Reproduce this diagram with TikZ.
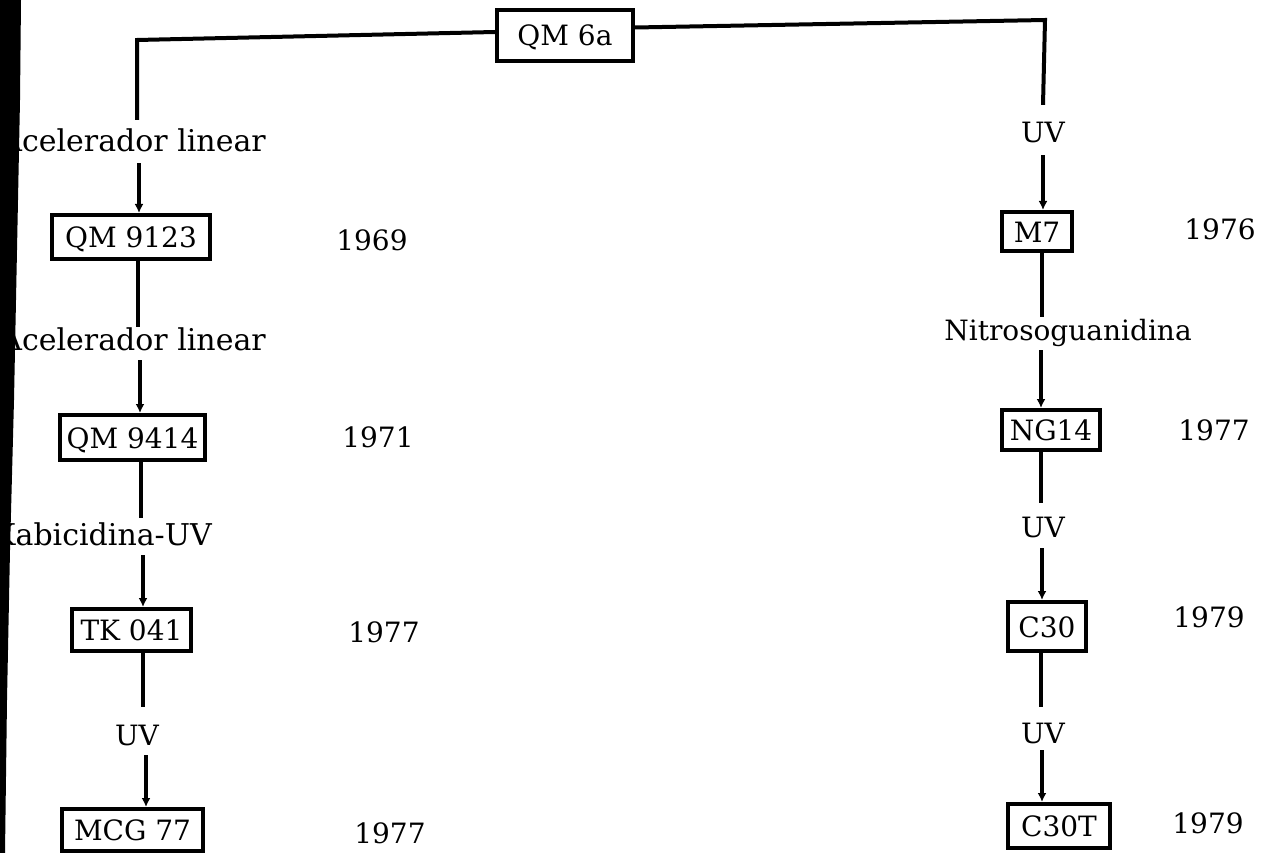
\documentclass[tikz,border=0pt]{standalone}
\usepackage{fontspec}
\setmainfont{DejaVu Serif}
\usetikzlibrary{calc,arrows.meta}
\begin{document}
\begin{tikzpicture}[x=1pt,y=-1pt,
  box/.style={draw, line width=4pt, inner sep=0pt, font=\fontsize{28}{30}\selectfont, text height=21pt, text depth=0pt},
  lab/.style={inner sep=0pt, text height=21pt, text depth=0pt, font=\fontsize{28}{30}\selectfont},
  biglab/.style={lab, font=\fontsize{30}{32}\selectfont},
  conn/.style={line width=4pt},
  arr/.style={conn, -{Latex[length=9pt,width=9pt]}}]
\useasboundingbox (0,0) rectangle (1266,853);
\clip (0,0) rectangle (1266,853);
\fill[white] (0,0) rectangle (1266,853);

% boxes
\node[box, minimum width=136pt, minimum height=51pt] (qm6a) at (565,35.5) {QM 6a};
\node[box, minimum width=158pt, minimum height=44pt] (q9123) at (131,237) {QM 9123};
\node[box, minimum width=145pt, minimum height=45pt] (q9414) at (132.5,437.5) {QM 9414};
\node[box, minimum width=119pt, minimum height=42pt] (tk) at (131.5,630) {TK 041};
\node[box, minimum width=141pt, minimum height=42pt] (mcg) at (132.5,830) {MCG 77};
\node[box, minimum width=70pt, minimum height=39pt] (m7) at (1037,231.5) {M7};
\node[box, minimum width=98pt, minimum height=40pt] (ng) at (1051,430) {NG14};
\node[box, minimum width=78pt, minimum height=49pt] (c30) at (1047,626.5) {C30};
\node[box, minimum width=102pt, minimum height=44pt] (c30t) at (1059,826) {C30T};

% labels
\node[biglab, anchor=base east] (l1) at (266,152) {Acelerador linear};
\node[biglab, anchor=base east] (l2) at (266,350) {Acelerador linear};
\node[biglab, anchor=base east] (l3) at (212,545) {Kabicidina-UV};
\node[lab, anchor=base] (l4) at (137,745) {UV};
\node[lab, anchor=base] (r1) at (1043,143) {UV};
\node[lab, anchor=base] (r2) at (1068,340) {Nitrosoguanidina};
\node[lab, anchor=base] (r3) at (1043,537) {UV};
\node[lab, anchor=base] (r4) at (1043,743) {UV};

% years
\node[lab, anchor=base] (y1) at (372,250) {1969};
\node[lab, anchor=base] (y2) at (378,447) {1971};
\node[lab, anchor=base] (y3) at (384,642) {1977};
\node[lab, anchor=base] (y4) at (390,843) {1977};
\node[lab, anchor=base] (y5) at (1220,240) {1976};
\node[lab, anchor=base] (y6) at (1214,440) {1977};
\node[lab, anchor=base] (y7) at (1209,627) {1979};
\node[lab, anchor=base] (y8) at (1208,833) {1979};

% connectors
\coordinate (cL) at (137,40);
\coordinate (cR) at (1045,20);
\draw[conn] ($(qm6a.west)+(0,-3.5)$) -- (cL) -- ($(l1.north -| cL)+(0,-11)$);
\draw[arr] ($(l1.south -| q9123.north)+(8,11)$) -- ($(q9123.north)+(8,0)$);
\draw[conn] ($(q9123.south)+(7,0)$) -- ($(l2.north -| q9123.south)+(7,-2)$);
\draw[arr] ($(l2.south -| q9414.north)+(7.5,10)$) -- ($(q9414.north)+(7.5,0)$);
\draw[conn] ($(q9414.south)+(8.5,0)$) -- ($(l3.north -| q9414.south)+(8.5,-6)$);
\draw[arr] ($(l3.south -| tk.north)+(11.5,10)$) -- ($(tk.north)+(11.5,0)$);
\draw[conn] ($(tk.south)+(11.5,0)$) -- ($(l4.north -| tk.south)+(11.5,-17)$);
\draw[arr] ($(l4.south -| mcg.north)+(13.5,10)$) -- ($(mcg.north)+(13.5,0)$);

\draw[conn] ($(qm6a.east)+(0,-8)$) -- (cR) -- ($(r1.north -| cR)+(-2,-17)$);
\draw[arr] ($(r1.south -| m7.north)+(6,12)$) -- ($(m7.north)+(6,0)$);
\draw[conn] ($(m7.south)+(5,0)$) -- ($(r2.north -| m7.south)+(5,-2)$);
\draw[arr] ($(r2.south -| ng.north)+(-10,10)$) -- ($(ng.north)+(-10,0)$);
\draw[conn] ($(ng.south)+(-10,0)$) -- ($(r3.north -| ng.south)+(-10,-13)$);
\draw[arr] ($(r3.south -| c30.north)+(-5,11)$) -- ($(c30.north)+(-5,0)$);
\draw[conn] ($(c30.south)+(-6,0)$) -- ($(r4.north -| c30.south)+(-6,-15)$);
\draw[arr] ($(r4.south -| c30t.north)+(-17,7)$) -- ($(c30t.north)+(-17,0)$);

% scanned page edge
\fill[black] (0,0) -- (21,0) -- (20,100) -- (17,250) -- (14,400) -- (10,550) -- (7,700) -- (5,853) -- (0,853) -- cycle;
\end{tikzpicture}
\end{document}
